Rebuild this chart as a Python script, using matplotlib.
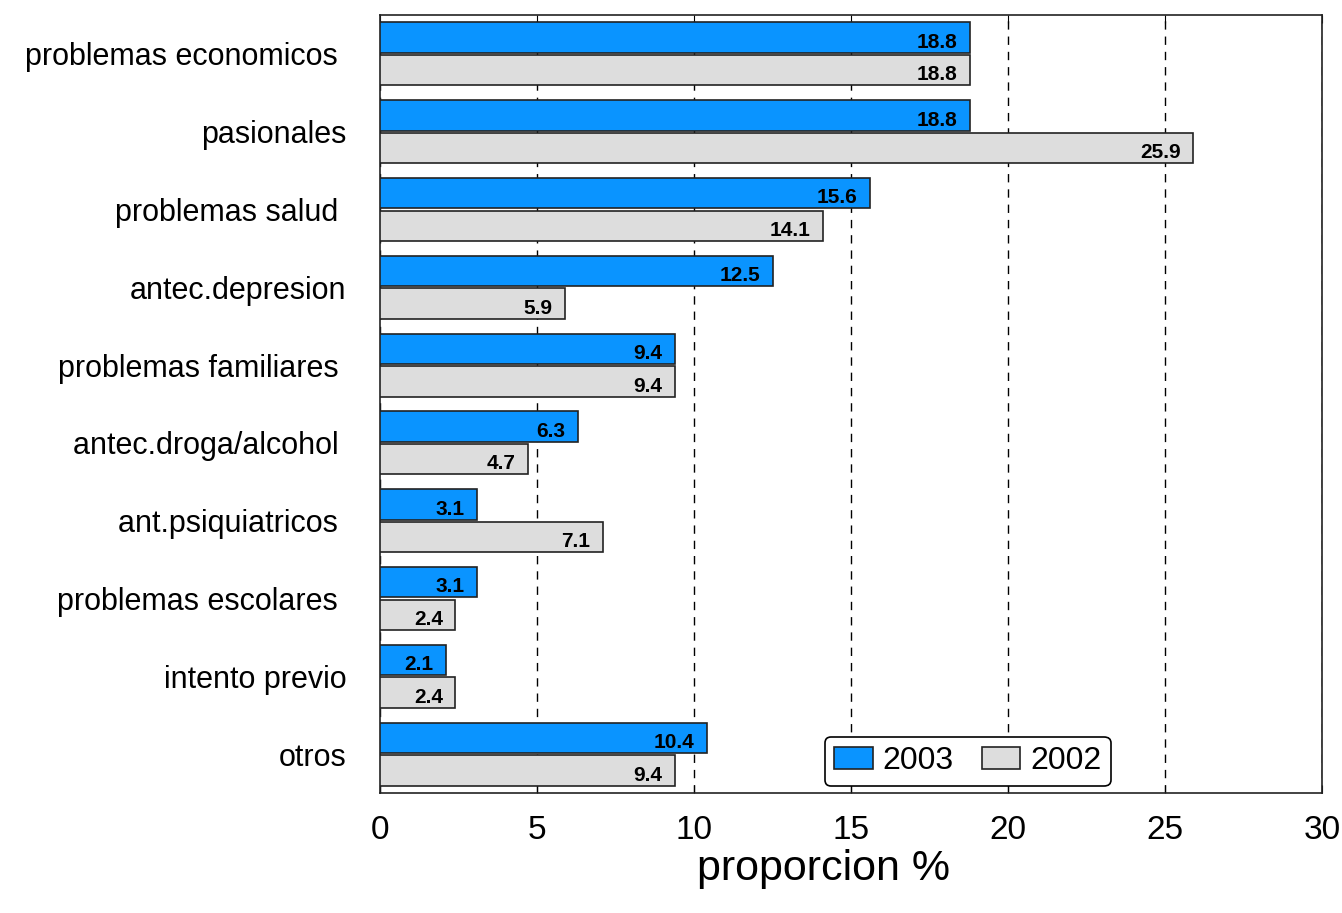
import matplotlib.pyplot as plt
import numpy as np

plt.rcParams['font.family'] = ['Liberation Sans', 'DejaVu Sans']

categorias = ['problemas economicos ', 'pasionales', 'problemas salud ', 'antec.depresion',
              'problemas familiares ', 'antec.droga/alcohol ', 'ant.psiquiatricos ',
              'problemas escolares ', 'intento previo', 'otros']
v2003 = [18.8, 18.8, 15.6, 12.5, 9.4, 6.3, 3.1, 3.1, 2.1, 10.4]
v2002 = [18.8, 25.9, 14.1, 5.9, 9.4, 4.7, 7.1, 2.4, 2.4, 9.4]

fig = plt.figure(figsize=(13.42, 9.13), dpi=100)
ax = fig.add_axes([380 / 1342, 1 - 793 / 913, 942 / 1342, 778 / 913])

y = np.arange(len(categorias))
h = 0.39
b1 = ax.barh(y - 0.21, v2003, height=h, color='#0A94FF', edgecolor='#222222', linewidth=1.2, label='2003', zorder=3)
b2 = ax.barh(y + 0.21, v2002, height=h, color='#DDDDDD', edgecolor='#222222', linewidth=1.2, label='2002', zorder=3)

for vals, off in ((v2003, -0.21), (v2002, 0.21)):
    for yi, v in zip(y, vals):
        ax.text(v - 0.4, yi + off + 0.06, f'{v:.1f}', ha='right', va='center',
                fontsize=15, fontweight='bold', zorder=4)

ax.set_xlim(0, 30)
ax.set_ylim(len(categorias) - 0.5, -0.5)
ax.set_xticks(range(0, 31, 5))
ax.set_yticks(y)
ax.set_yticklabels(categorias, fontsize=22)
ax.tick_params(axis='x', labelsize=24, direction='in', length=6, top=True, pad=16)
ax.tick_params(axis='y', length=0, pad=24)
ax.xaxis.grid(True, linestyle=(0, (6, 5)), color='black', linewidth=1)
ax.set_axisbelow(True)
for s in ax.spines.values():
    s.set_linewidth(1.2)
    s.set_color('#222222')

ax.set_xlabel('proporcion %', fontsize=31)
ax.xaxis.set_label_coords(0.471, -0.072)

leg = ax.legend(loc='lower left', bbox_to_anchor=(0.472, 0.009), fontsize=23, fancybox=True,
                edgecolor='black', framealpha=1, handlelength=1.2, handleheight=0.7,
                handletextpad=0.3, columnspacing=0.9, ncol=2, borderpad=0.3,
                borderaxespad=0)
leg.get_frame().set_linewidth(1.2)

fig.savefig('out.png', dpi=100)
